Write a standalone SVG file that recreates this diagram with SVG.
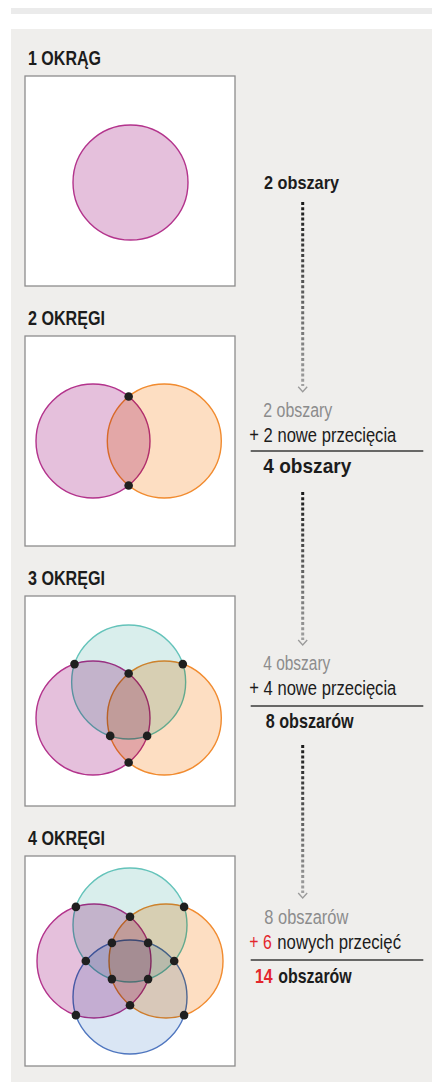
<svg xmlns="http://www.w3.org/2000/svg" width="432" height="1091" viewBox="0 0 432 1091">
<defs>
<style>
.t{font-family:"Liberation Sans",Arial,sans-serif;fill:#1c1c1c}
.title{font-weight:bold;font-size:20px}
.n{font-size:20px}
.b{font-weight:bold;font-size:21px}
.gray{fill:#8c8c8c}
.red{fill:#e3262d}
.box{fill:#fff;stroke:#8d8d8d;stroke-width:1.3}
.c{stroke-width:1.4;mix-blend-mode:multiply}
.pk{fill:#e5c0dc;stroke:#b3338c}
.or{fill:#fddec2;stroke:#f18b2f}
.tl{fill:#d9eeec;stroke:#64c3ba}
.bl{fill:#dae6f4;stroke:#4f76bf}
.dot{fill:#1f1f1f}
.rule{stroke:#3a3a3a;stroke-width:1.4}
.dash{fill:none;stroke-width:3;stroke-dasharray:3 2.2}
.head{fill:none;stroke:#9a9a9a;stroke-width:1.3}
.fig{isolation:isolate}
</style>
<linearGradient id="g1" gradientUnits="userSpaceOnUse" x1="0" y1="202" x2="0" y2="386"><stop offset="0" stop-color="#1a1a1a"/><stop offset="1" stop-color="#a0a0a0"/></linearGradient>
<linearGradient id="g2" gradientUnits="userSpaceOnUse" x1="0" y1="492" x2="0" y2="640"><stop offset="0" stop-color="#1a1a1a"/><stop offset="1" stop-color="#a0a0a0"/></linearGradient>
<linearGradient id="g3" gradientUnits="userSpaceOnUse" x1="0" y1="745" x2="0" y2="893"><stop offset="0" stop-color="#1a1a1a"/><stop offset="1" stop-color="#a0a0a0"/></linearGradient>
</defs>

<rect x="11" y="8" width="421" height="6" fill="#ebebeb"/>
<rect x="11" y="29" width="421" height="1053" fill="#efeeec"/>

<g id="step1">
<text class="t title" x="28" y="65" textLength="73" lengthAdjust="spacingAndGlyphs">1 OKRĄG</text>
<g class="fig">
<rect class="box" x="25" y="76" width="210" height="210"/>
<circle class="c pk" cx="130.5" cy="182.5" r="57.5"/>
</g>
</g>

<g id="step2">
<text class="t title" x="28" y="325" textLength="77" lengthAdjust="spacingAndGlyphs">2 OKRĘGI</text>
<g class="fig">
<rect class="box" x="25" y="336" width="210" height="210"/>
<circle class="c pk" cx="93" cy="441" r="57"/>
<circle class="c or" cx="164.3" cy="441" r="57"/>
</g>
<circle class="dot" cx="128.65" cy="396.5" r="4.3"/>
<circle class="dot" cx="128.65" cy="485.5" r="4.3"/>
</g>

<g id="step3">
<text class="t title" x="28" y="585" textLength="77" lengthAdjust="spacingAndGlyphs">3 OKRĘGI</text>
<g class="fig">
<rect class="box" x="25" y="596" width="210" height="210"/>
<circle class="c tl" cx="128.65" cy="682" r="57"/>
<circle class="c pk" cx="93" cy="718" r="57"/>
<circle class="c or" cx="164.3" cy="718" r="57"/>
</g>
<circle class="dot" cx="74.5" cy="664.1" r="4.3"/>
<circle class="dot" cx="182.8" cy="664.1" r="4.3"/>
<circle class="dot" cx="128.65" cy="673.5" r="4.3"/>
<circle class="dot" cx="110.2" cy="735.9" r="4.3"/>
<circle class="dot" cx="147.1" cy="735.9" r="4.3"/>
<circle class="dot" cx="128.65" cy="762.5" r="4.3"/>
</g>

<g id="step4">
<text class="t title" x="28" y="845" textLength="77" lengthAdjust="spacingAndGlyphs">4 OKRĘGI</text>
<g class="fig">
<rect class="box" x="25" y="856" width="210" height="210"/>
<circle class="c tl" cx="130" cy="925" r="57"/>
<circle class="c pk" cx="94" cy="961" r="57"/>
<circle class="c or" cx="166" cy="961" r="57"/>
<circle class="c bl" cx="130" cy="997" r="57"/>
</g>
<circle class="dot" cx="75.9" cy="906.9" r="4.3"/>
<circle class="dot" cx="184.1" cy="906.9" r="4.3"/>
<circle class="dot" cx="130" cy="916.8" r="4.3"/>
<circle class="dot" cx="111.9" cy="942.9" r="4.3"/>
<circle class="dot" cx="148.1" cy="942.9" r="4.3"/>
<circle class="dot" cx="85.8" cy="961" r="4.3"/>
<circle class="dot" cx="174.2" cy="961" r="4.3"/>
<circle class="dot" cx="111.9" cy="979.1" r="4.3"/>
<circle class="dot" cx="148.1" cy="979.1" r="4.3"/>
<circle class="dot" cx="130" cy="1005.2" r="4.3"/>
<circle class="dot" cx="75.9" cy="1015.1" r="4.3"/>
<circle class="dot" cx="184.1" cy="1015.1" r="4.3"/>
</g>

<g id="count1">
<text class="t" x="264" y="189" font-size="19" font-weight="bold" textLength="75" lengthAdjust="spacingAndGlyphs">2 obszary</text>
</g>

<g id="count2">
<text class="t n gray" x="263.3" y="417" textLength="69" lengthAdjust="spacingAndGlyphs">2 obszary</text>
<text class="t n" x="249.3" y="442" textLength="147" lengthAdjust="spacingAndGlyphs">+ 2 nowe przecięcia</text>
<line class="rule" x1="250.7" y1="451" x2="423.3" y2="451"/>
<text class="t b" x="263.3" y="473" textLength="88" lengthAdjust="spacingAndGlyphs">4 obszary</text>
</g>

<g id="count3">
<text class="t n gray" x="263.3" y="670" textLength="67" lengthAdjust="spacingAndGlyphs">4 obszary</text>
<text class="t n" x="249.3" y="695" textLength="147" lengthAdjust="spacingAndGlyphs">+ 4 nowe przecięcia</text>
<line class="rule" x1="250.7" y1="706" x2="423.3" y2="706"/>
<text class="t b" x="265.7" y="728" textLength="88" lengthAdjust="spacingAndGlyphs">8 obszarów</text>
</g>

<g id="count4">
<text class="t n gray" x="264.3" y="924" textLength="84" lengthAdjust="spacingAndGlyphs">8 obszarów</text>
<text class="t n red" x="249.3" y="949" textLength="22.4" lengthAdjust="spacingAndGlyphs">+ 6</text>
<text class="t n" x="277.3" y="949" textLength="123.7" lengthAdjust="spacingAndGlyphs">nowych przecięć</text>
<line class="rule" x1="250.7" y1="960" x2="423.3" y2="960"/>
<text class="t b red" x="255" y="983" textLength="17.7" lengthAdjust="spacingAndGlyphs">14</text>
<text class="t b" x="278.3" y="983" textLength="73.4" lengthAdjust="spacingAndGlyphs">obszarów</text>
</g>

<g id="connectors">
<line class="dash" x1="302.7" y1="202" x2="302.7" y2="386" stroke="url(#g1)"/>
<polyline class="head" points="298.2,386.8 302.7,391.8 307.2,386.8"/>
<line class="dash" x1="302.7" y1="492" x2="302.7" y2="640" stroke="url(#g2)"/>
<polyline class="head" points="298.2,640 302.7,645 307.2,640"/>
<line class="dash" x1="302.7" y1="745" x2="302.7" y2="893" stroke="url(#g3)"/>
<polyline class="head" points="298.2,893 302.7,898 307.2,893"/>
</g>
</svg>
